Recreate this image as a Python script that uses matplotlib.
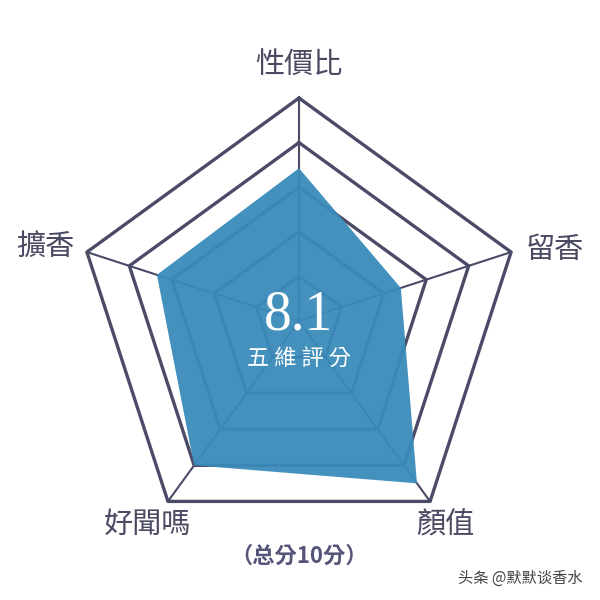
import numpy as np
import matplotlib
matplotlib.use("Agg")
import matplotlib.pyplot as plt

plt.rcParams['font.family'] = ['Noto Sans CJK TC', 'DejaVu Sans']

# data
categories = ['性價比', '留香', '顏值', '好聞嗎', '擴香']
scores = [6.85, 4.8, 9.0, 8.0, 6.7]
max_score = 10
ring_levels = [2, 4, 6, 8, 10]
total_score = '8.1'

# layout
cx, cy, R = 299, 321, 223
line_col = '#4b4b68'
fill_col = '#3a8bbb'

angles = np.pi / 2 - np.arange(len(categories)) * 2 * np.pi / len(categories)

def to_xy(vals):
    r = np.asarray(vals, dtype=float) / max_score * R
    return cx + r * np.cos(angles), cy - r * np.sin(angles)

fig = plt.figure(figsize=(6, 6), dpi=100)
ax = fig.add_axes([0, 0, 1, 1])
ax.set_xlim(0, 600)
ax.set_ylim(600, 0)
ax.axis('off')

# grid rings and spokes
for lv in ring_levels:
    x, y = to_xy([lv] * len(categories))
    ax.plot(np.append(x, x[0]), np.append(y, y[0]), color=line_col, lw=2.4, zorder=1)
ox, oy = to_xy([max_score] * len(categories))
for x, y in zip(ox, oy):
    ax.plot([cx, x], [cy, y], color=line_col, lw=1.5, zorder=1)

# score polygon
sx, sy = to_xy(scores)
ax.fill(sx, sy, color=fill_col, alpha=0.95, lw=0, zorder=2)

# category labels, offset from the outer vertices
offsets = [(0, -33), (44, -2), (15, 24), (-20, 24), (-42, -4)]
for name, x, y, (dx, dy) in zip(categories, ox, oy, offsets):
    ax.text(x + dx, y + dy, name, fontsize=21, color='#4a4a62',
            ha='center', va='center', zorder=3)

# center text
ax.text(cx, cy - 5, total_score, fontsize=40, color='white', ha='center', va='center',
        family=['Liberation Serif'], zorder=4)
ax.text(cx, cy + 38, '五 維 評 分', fontsize=16, color='white', ha='center', va='center',
        fontweight='medium', zorder=4)

ax.text(cx, 556, '（总分10分）', fontsize=16, color='#55557a', ha='center', va='center',
        fontweight='bold', zorder=4)
ax.text(520, 578, '头条 @默默谈香水', fontsize=11, color='#444444', ha='center', va='center',
        zorder=4)

fig.savefig('out.png', dpi=100, facecolor='white')
